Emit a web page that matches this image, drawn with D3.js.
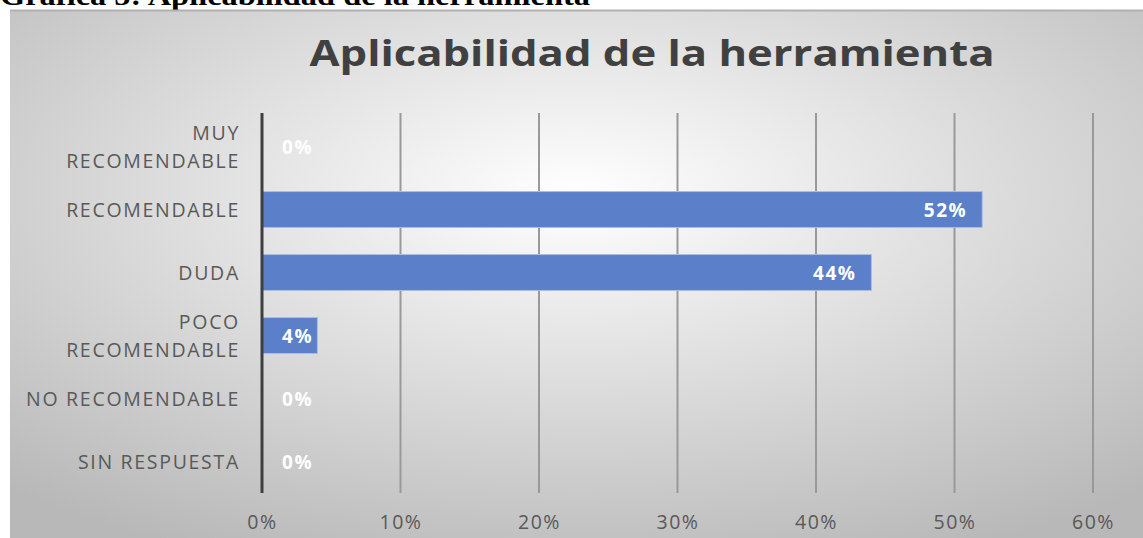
<!DOCTYPE html>
<html>
<head>
<meta charset="utf-8">
<script src="https://cdn.jsdelivr.net/npm/d3@7"></script>
<style>
  body { margin: 0; background: #fff; overflow: hidden; }
  svg { display: block; }
</style>
</head>
<body>
<script>
var w = 1143;
var h = 538;

// data
var categories = ["MUY RECOMENDABLE", "RECOMENDABLE", "DUDA", "POCO RECOMENDABLE", "NO RECOMENDABLE", "SIN RESPUESTA"];
var catLines = [["MUY", "RECOMENDABLE"], ["RECOMENDABLE"], ["DUDA"], ["POCO", "RECOMENDABLE"], ["NO RECOMENDABLE"], ["SIN RESPUESTA"]];
var values = [0, 0.52, 0.44, 0.04, 0, 0];
var ticks = [0, 0.1, 0.2, 0.3, 0.4, 0.5, 0.6];

var svg = d3.select("body").append("svg")
    .attr("width", w)
    .attr("height", h);

// background gradient
var defs = svg.append("defs");
var grad = defs.append("radialGradient")
    .attr("id", "bg")
    .attr("cx", "50%").attr("cy", "35%")
    .attr("r", "75%")
    .attr("gradientUnits", "objectBoundingBox");
grad.append("stop").attr("offset", "0%").attr("stop-color", "#ffffff");
grad.append("stop").attr("offset", "100%").attr("stop-color", "#b8b8b8");

// figure caption (cut at top)
svg.append("text")
    .attr("x", 0)
    .attr("y", 5)
    .attr("font-family", "'Liberation Serif', serif")
    .attr("font-weight", "bold")
    .attr("font-size", "27px")
    .attr("fill", "#000")
    .attr("textLength", 590)
    .attr("lengthAdjust", "spacingAndGlyphs")
    .text("Gráfica 5: Aplicabilidad de la herramienta");

svg.append("rect")
    .attr("x", 10).attr("y", 10)
    .attr("width", w - 10).attr("height", h - 10)
    .attr("fill", "url(#bg)");
svg.append("line")
    .attr("x1", 10).attr("x2", w)
    .attr("y1", 10.5).attr("y2", 10.5)
    .attr("stroke", "#b0b0b0")
    .attr("stroke-width", 2);

// chart title
svg.append("text")
    .attr("x", 652)
    .attr("y", 66)
    .attr("text-anchor", "middle")
    .attr("font-family", "'Open Sans', sans-serif")
    .attr("font-weight", "bold")
    .attr("font-size", "35px")
    .attr("fill", "#404040")
    .attr("textLength", 685)
    .attr("lengthAdjust", "spacingAndGlyphs")
    .text("Aplicabilidad de la herramienta");

// scales
var xScale = d3.scaleLinear()
    .domain([0, 0.6])
    .range([262, 1093]);

var yScale = d3.scaleBand()
    .domain(categories)
    .range([115, 493])
    .paddingInner(0.43)
    .paddingOuter(0.215);

// gridlines
svg.append("g")
    .selectAll("line")
    .data(ticks.slice(1))
    .enter()
    .append("line")
    .attr("x1", function(d) { return xScale(d); })
    .attr("x2", function(d) { return xScale(d); })
    .attr("y1", 113)
    .attr("y2", 493)
    .attr("stroke", "#999")
    .attr("stroke-width", 2);

// x axis labels
var xAxis = d3.axisBottom(xScale)
    .tickValues(ticks)
    .tickSize(0)
    .tickPadding(0)
    .tickFormat(d3.format(".0%"));

var gx = svg.append("g")
    .attr("transform", "translate(0,529)")
    .call(xAxis);
gx.select(".domain").remove();
gx.selectAll("text")
    .attr("dy", 0)
    .attr("font-family", "'Open Sans', sans-serif")
    .attr("font-size", "19.5px")
    .attr("letter-spacing", "1.5px")
    .attr("fill", "#595959");

// bars
svg.append("g")
    .selectAll("rect")
    .data(values)
    .enter()
    .append("rect")
    .attr("x", xScale(0))
    .attr("y", function(d, i) { return yScale(categories[i]); })
    .attr("width", function(d) { return xScale(d) - xScale(0); })
    .attr("height", yScale.bandwidth())
    .attr("fill", "#5b7fc9")
    .attr("stroke", "#a9bde6")
    .attr("stroke-width", function(d) { return d > 0 ? 1 : 0; });

// value labels
svg.append("g")
    .selectAll("text")
    .data(values)
    .enter()
    .append("text")
    .attr("x", function(d) { return Math.max(xScale(d) - 15, 313); })
    .attr("y", function(d, i) { return yScale(categories[i]) + yScale.bandwidth() / 2 + 7; })
    .attr("text-anchor", "end")
    .attr("font-family", "'Open Sans', sans-serif")
    .attr("font-weight", "bold")
    .attr("font-size", "19px")
    .attr("letter-spacing", "1.5px")
    .attr("fill", "#fff")
    .text(function(d) { return Math.round(d * 100) + "%"; });

// category labels
var gy = svg.append("g");
catLines.forEach(function(lines, i) {
    var cy = yScale(categories[i]) + yScale.bandwidth() / 2;
    var t = gy.append("text")
        .attr("text-anchor", "end")
        .attr("font-family", "'Open Sans', sans-serif")
        .attr("font-size", "19.5px")
        .attr("letter-spacing", "1.7px")
        .attr("fill", "#595959");
    lines.forEach(function(line, j) {
        t.append("tspan")
            .attr("x", 240)
            .attr("y", cy + 7 + (j - (lines.length - 1) / 2) * 28)
            .text(line);
    });
});

// vertical axis line
svg.append("line")
    .attr("x1", xScale(0))
    .attr("x2", xScale(0))
    .attr("y1", 113)
    .attr("y2", 493)
    .attr("stroke", "#3f3f3f")
    .attr("stroke-width", 3);
</script>
</body>
</html>
